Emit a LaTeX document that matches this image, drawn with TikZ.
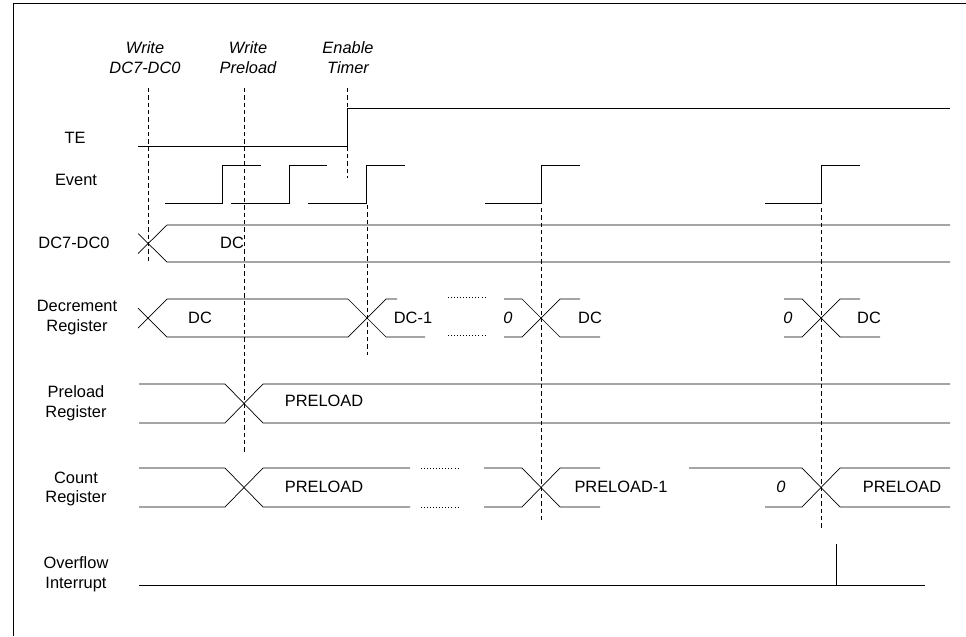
\documentclass[tikz,border=0pt]{standalone}
\usepackage{fontspec}
\setmainfont{Liberation Sans}
\usetikzlibrary{calc}

\begin{document}
\begin{tikzpicture}[x=0.3mm, y=-0.3mm,
    wave/.style={line width=0.6pt},
    guide/.style={line width=0.6pt, dash pattern=on 1.3mm off 0.9mm},
    gap/.style={line width=0.6pt, dotted},
    sig/.style={font=\fontsize{14}{17}\selectfont, align=center, inner sep=0pt},
    evt/.style={font=\fontsize{14}{17}\selectfont\itshape, align=center, inner sep=0pt}]

    \useasboundingbox (0,0) rectangle (966,636);

    % Frame
    \draw[wave] (13,636) -- (13,3) -- (966,3);

    % Events on top
    \node[evt] (wrDC) at (145,58) {Write\\DC7-DC0};
    \node[evt] (wrPre) at (248,58) {Write\\Preload};
    \node[evt] (enTim) at (348,58) {Enable\\Timer};

    % Signal names
    \node[sig] (nTE) at (75,138) {TE};
    \node[sig] (nEvent) at (76,180) {Event};
    \node[sig] (nDC) at (74,243) {DC7-DC0};
    \node[sig] (nDec) at (77,318) {Decrement\\Register};
    \node[sig] (nPre) at (76,403) {Preload\\Register};
    \node[sig] (nCnt) at (76,489) {Count\\Register};
    \node[sig] (nOvf) at (76,574) {Overflow\\Interrupt};

    % TE
    \draw[wave] (138,146) -- (347,146) -- (347,108) -- (950,108);

    % Event pulses
    \def\evL{203}
    \def\evH{165}
    \draw[wave] (165,\evL) -- (222,\evL) -- (222,\evH) -- (261,\evH);
    \draw[wave] (231,\evL) -- (289,\evL) -- (289,\evH) -- (327,\evH);
    \draw[wave] (308,\evL) -- (366,\evL) -- (366,\evH) -- (405,\evH);
    \draw[wave] (485,\evL) -- (541,\evL) -- (541,\evH) -- (580,\evH);
    \draw[wave] (765,\evL) -- (821,\evL) -- (821,\evH) -- (860,\evH);

    % DC7-DC0 bus
    \draw[wave] (138,233.5) -- (167,262) -- (950,262);
    \draw[wave] (138,253.5) -- (167,225) -- (950,225);
    \node[sig] (vDC) at (232,243) {DC};

    % Decrement register
    \def\dT{299}
    \def\dB{337}
    \draw[wave] (138,308) -- (167,\dB) -- (348,\dB) -- (386,\dT) -- (397,\dT);
    \draw[wave] (138,328) -- (167,\dT) -- (348,\dT) -- (386,\dB) -- (425,\dB);
    \draw[gap] (448,297) -- (487,297);
    \draw[gap] (448,335) -- (487,335);
    \draw[wave] (504,\dT) -- (522,\dT) -- (560,\dB) -- (600,\dB);
    \draw[wave] (504,\dB) -- (522,\dB) -- (560,\dT) -- (580,\dT);
    \draw[wave] (784,\dT) -- (802,\dT) -- (840,\dB) -- (880,\dB);
    \draw[wave] (784,\dB) -- (802,\dB) -- (840,\dT) -- (860,\dT);
    \node[sig] (vDec0) at (200,318) {DC};
    \node[sig] (vDec1) at (413,318) {DC-1};
    \node[evt] (vDec2) at (508,318) {0};
    \node[sig] (vDec3) at (590,318) {DC};
    \node[evt] (vDec4) at (788,318) {0};
    \node[sig] (vDec5) at (869,318) {DC};

    % Preload register
    \def\pT{384}
    \def\pB{423}
    \draw[wave] (139,\pT) -- (225,\pT) -- (263,\pB) -- (950,\pB);
    \draw[wave] (139,\pB) -- (225,\pB) -- (263,\pT) -- (950,\pT);
    \node[sig] (vPre) at (324,401) {PRELOAD};

    % Count register
    \def\cT{468}
    \def\cB{507}
    \draw[wave] (139,\cT) -- (225,\cT) -- (263,\cB) -- (410,\cB);
    \draw[wave] (139,\cB) -- (225,\cB) -- (263,\cT) -- (410,\cT);
    \draw[gap] (421,\cT) -- (459,\cT);
    \draw[gap] (421,\cB) -- (459,\cB);
    \draw[wave] (484,\cT) -- (522,\cT) -- (560,\cB) -- (600,\cB);
    \draw[wave] (484,\cB) -- (522,\cB) -- (560,\cT) -- (600,\cT);
    \draw[wave] (689,\cT) -- (802,\cT) -- (840,\cB) -- (950,\cB);
    \draw[wave] (765,\cB) -- (802,\cB) -- (840,\cT) -- (950,\cT);
    \node[sig] (vCnt0) at (324,487) {PRELOAD};
    \node[sig] (vCnt1) at (621,487) {PRELOAD-1};
    \node[evt] (vCnt2) at (781,487) {0};
    \node[sig] (vCnt3) at (902,487) {PRELOAD};

    % Overflow interrupt
    \draw[wave] (139,585) -- (925,585);
    \draw[wave] (836,585) -- (836,544);

    % Dashed time markers
    \draw[guide] (148,88) -- (148,262);
    \draw[guide] (244,88) -- (244,453);
    \draw[guide] (347,88) -- (347,178);
    \draw[guide] (367,205) -- (367,355);
    \draw[guide] (541,208) -- (541,522);
    \draw[guide] (821,208) -- (821,528);

\end{tikzpicture}
\end{document}
